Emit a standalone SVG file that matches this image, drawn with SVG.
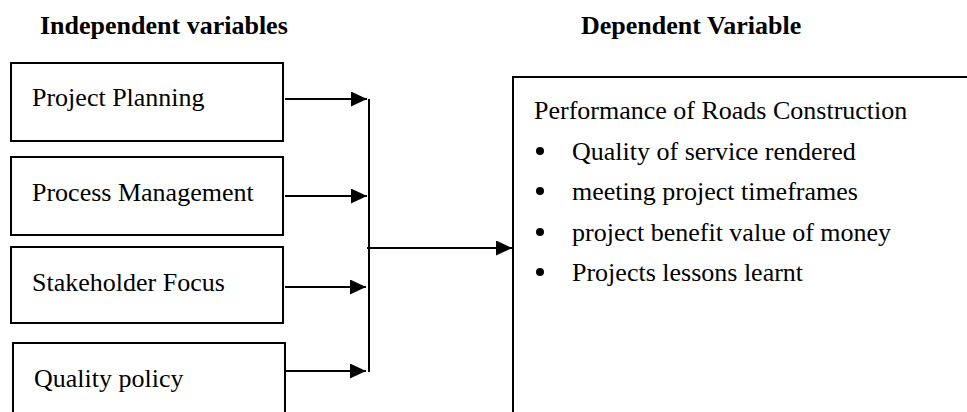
<svg xmlns="http://www.w3.org/2000/svg" width="967" height="412" viewBox="0 0 967 412">
<style>
.box{fill:#fff;stroke:#000;stroke-width:2}
.t{font-family:"Liberation Serif","Times New Roman",serif;font-size:26px;fill:#000}
.h{font-family:"Liberation Serif","Times New Roman",serif;font-size:26px;font-weight:bold;fill:#000}
.c{stroke:#000;stroke-width:2;fill:none}
</style>
<defs>
<marker id="ah" markerUnits="userSpaceOnUse" markerWidth="16" markerHeight="15" refX="16" refY="7.5" orient="auto">
<path d="M0,0 L16,7.5 L0,15 z" fill="#000"/>
</marker>
</defs>
<rect width="967" height="412" fill="#fff"/>
<text class="h" x="40" y="34">Independent variables</text>
<text class="h" x="581" y="34">Dependent Variable</text>
<g id="n1"><rect class="box" x="11" y="63" width="272" height="78"/><text class="t" x="32" y="106">Project Planning</text></g>
<g id="n2"><rect class="box" x="11" y="157" width="272" height="78"/><text class="t" x="32" y="201">Process Management</text></g>
<g id="n3"><rect class="box" x="11" y="247" width="272" height="76"/><text class="t" x="32" y="291">Stakeholder Focus</text></g>
<g id="n4"><rect class="box" x="13" y="343" width="272" height="100"/><text class="t" x="34" y="387">Quality policy</text></g>
<g id="n5"><rect class="box" x="513" y="77" width="500" height="400"/>
<text class="t" x="534" y="119">Performance of Roads Construction</text>
<g class="t"><circle cx="540" cy="151" r="4"/><circle cx="540" cy="191" r="4"/><circle cx="540" cy="232" r="4"/><circle cx="540" cy="272" r="4"/></g>
<text class="t" x="572" y="160">Quality of service rendered</text>
<text class="t" x="572" y="200">meeting project timeframes</text>
<text class="t" x="572" y="241">project benefit value of money</text>
<text class="t" x="572" y="281">Projects lessons learnt</text>
</g>
<g id="connectors">
<line class="c" x1="285" y1="99" x2="367" y2="99" marker-end="url(#ah)"/>
<line class="c" x1="285" y1="196" x2="367" y2="196" marker-end="url(#ah)"/>
<line class="c" x1="285" y1="287" x2="366" y2="287" marker-end="url(#ah)"/>
<line class="c" x1="285" y1="371" x2="366" y2="371" marker-end="url(#ah)"/>
<line class="c" x1="369" y1="99" x2="369" y2="372"/>
<line class="c" x1="367" y1="248" x2="512" y2="248" marker-end="url(#ah)"/>
</g>
</svg>
